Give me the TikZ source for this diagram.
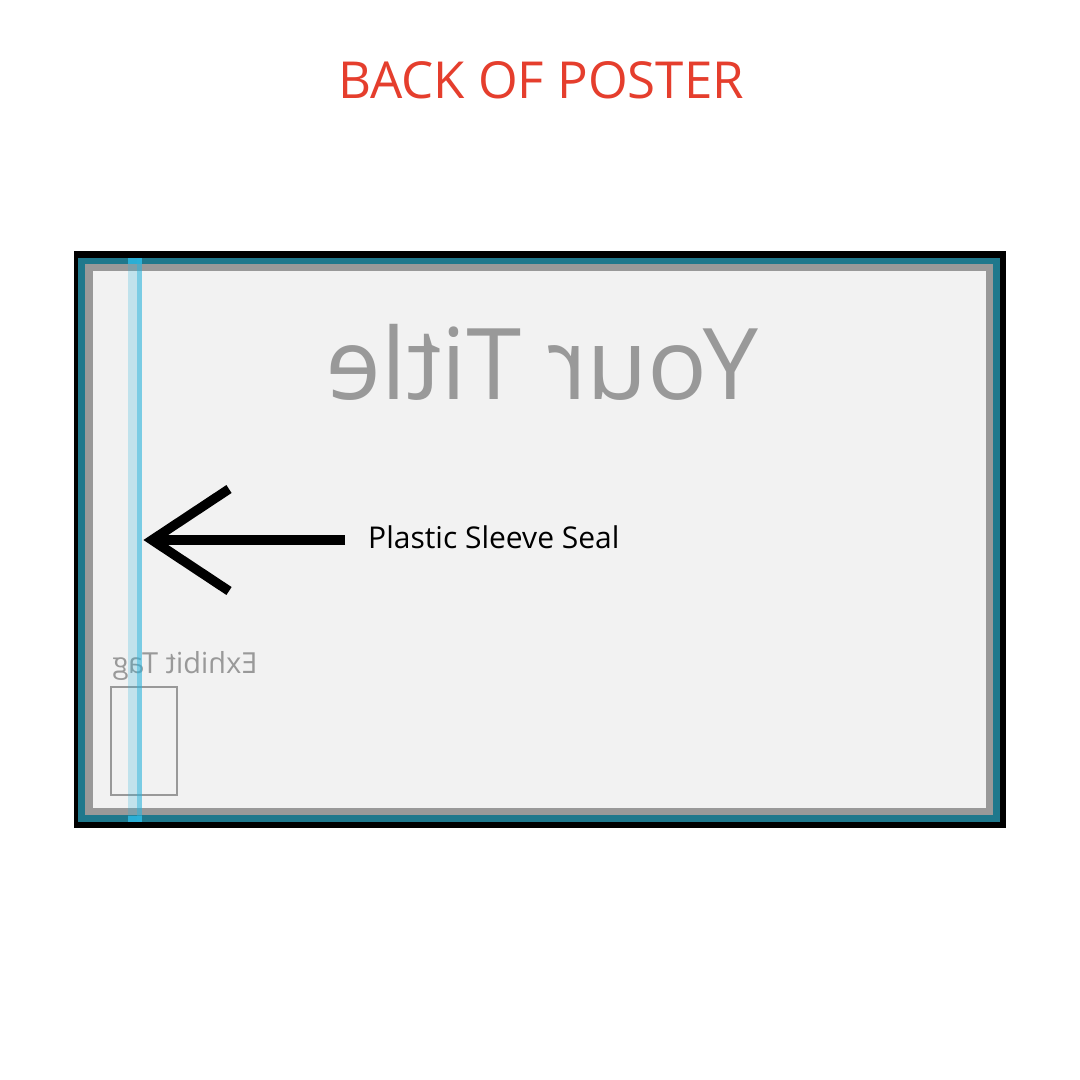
\documentclass[tikz,border=0pt]{standalone}
\usepackage{fontspec}
\setmainfont{Open Sans}
\definecolor{titlered}{HTML}{E53E2D}
\definecolor{teal}{HTML}{1F788C}
\definecolor{bandgray}{HTML}{999999}
\definecolor{paper}{HTML}{F2F2F2}
\definecolor{seal}{HTML}{2BB3DB}
\begin{document}
\begin{tikzpicture}[x=1pt,y=-1pt,
  lbl/.style={inner sep=0pt, anchor=base},
  mirror/.style={xscale=-1},
  arrowline/.style={line width=9.5pt, line join=miter, line cap=butt}]
\useasboundingbox[fill=white] (0,0) rectangle (1080,1080);
% title
\node[lbl, text=titlered, font=\fontsize{51}{60}\selectfont] (title) at (541,98) {BACK OF POSTER};
% poster layers
\fill[black] (74,251) rectangle (1006,828);
\fill[teal] (78,258) rectangle (1000,822);
\fill[bandgray] (85,264) rectangle (993,815);
\fill[paper] (93,271) rectangle (986,808);
% mirrored title
\node[lbl, mirror, text=bandgray, font=\fontsize{99}{110}\selectfont] (yt) at (542,399) {Your Title};
% exhibit tag
\node[lbl, mirror, text=bandgray, font=\fontsize{29}{32}\selectfont] (et) at (185,673) {Exhibit Tag};
\node[draw=bandgray, line width=2pt, inner sep=0pt, minimum width=66pt, minimum height=108pt] (tag) at (144,741) {};
% seal strip
\fill[seal, opacity=0.25] (128,258) rectangle (137,822);
\fill[seal, opacity=0.6] (137,258) rectangle (142,822);
\fill[seal, opacity=0.9] (128,258) rectangle (142,264);
\fill[seal, opacity=0.9] (128,816) rectangle (142,822);
% label and arrow
\node[lbl, anchor=base west, font=\fontsize{30}{34}\selectfont] (seal) at (368,548) {Plastic Sleeve Seal};
\coordinate (tip) at (152,540);
\coordinate (tail) at (345,540);
\coordinate (barbA) at (229,489);
\coordinate (barbB) at (229,591);
\draw[arrowline] (tail) -- (tip);
\draw[arrowline] (barbA) -- (tip) -- (barbB);
\end{tikzpicture}
\end{document}
